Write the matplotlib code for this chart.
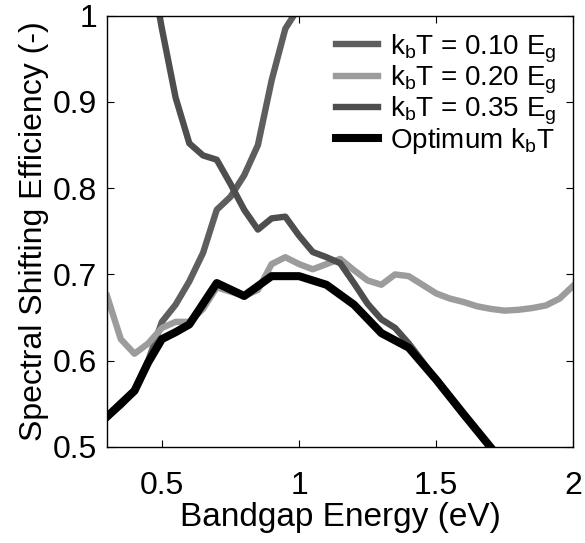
import matplotlib
matplotlib.use('Agg')
import matplotlib.pyplot as plt

plt.rcParams['font.family'] = ['Liberation Sans', 'DejaVu Sans']
plt.rcParams['mathtext.fontset'] = 'custom'
plt.rcParams['mathtext.rm'] = 'Liberation Sans'

# kbT = 0.10 Eg (rising curve)
x_010 = [0.30, 0.35, 0.40, 0.45, 0.50, 0.55, 0.60, 0.65, 0.70, 0.75, 0.80, 0.85, 0.90, 0.95, 0.98, 1.00]
y_010 = [0.535, 0.548, 0.565, 0.600, 0.645, 0.665, 0.692, 0.725, 0.775, 0.790, 0.815, 0.850, 0.925, 0.985, 1.000, 1.020]

# kbT = 0.20 Eg (light grey)
x_020 = [0.30, 0.35, 0.40, 0.45, 0.50, 0.55, 0.60, 0.65, 0.70, 0.75, 0.80, 0.85, 0.90, 0.95,
         1.00, 1.05, 1.10, 1.15, 1.20, 1.25, 1.30, 1.35, 1.40, 1.45, 1.50, 1.55, 1.60, 1.65,
         1.70, 1.75, 1.80, 1.85, 1.90, 1.95, 2.00]
y_020 = [0.675, 0.625, 0.608, 0.620, 0.638, 0.645, 0.645, 0.660, 0.685, 0.680, 0.675, 0.682, 0.712, 0.720,
         0.712, 0.706, 0.712, 0.718, 0.705, 0.693, 0.688, 0.700, 0.698, 0.688, 0.678, 0.672, 0.668, 0.663,
         0.660, 0.658, 0.659, 0.661, 0.664, 0.672, 0.687]

# kbT = 0.35 Eg (falling curve)
x_035 = [0.48, 0.50, 0.55, 0.60, 0.65, 0.70, 0.75, 0.80, 0.85, 0.90, 0.95, 1.00, 1.05, 1.10, 1.15,
         1.20, 1.25, 1.30, 1.35, 1.40, 1.50, 1.60, 1.70]
y_035 = [1.020, 0.985, 0.905, 0.852, 0.838, 0.833, 0.805, 0.775, 0.752, 0.765, 0.767, 0.745, 0.726, 0.720, 0.713,
         0.690, 0.666, 0.648, 0.638, 0.620, 0.578, 0.538, 0.499]

# optimum kbT
x_opt = [0.30, 0.35, 0.40, 0.45, 0.50, 0.55, 0.60, 0.70, 0.80, 0.90, 1.00, 1.10, 1.20, 1.30, 1.40, 1.50, 1.60, 1.70]
y_opt = [0.535, 0.550, 0.565, 0.598, 0.625, 0.633, 0.642, 0.690, 0.675, 0.698, 0.698, 0.688, 0.665, 0.632, 0.615, 0.578, 0.538, 0.499]

fig = plt.figure(figsize=(5.85, 5.43), dpi=100)
ax = fig.add_axes([0.183, 0.177, 0.797, 0.794])

ax.plot(x_010, y_010, color='#5e5e5e', lw=4.6, label=r'k$_\mathregular{b}$T = 0.10 E$_\mathregular{g}$')
ax.plot(x_020, y_020, color='#9c9c9c', lw=4.6, label=r'k$_\mathregular{b}$T = 0.20 E$_\mathregular{g}$')
ax.plot(x_035, y_035, color='#4e4e4e', lw=4.6, label=r'k$_\mathregular{b}$T = 0.35 E$_\mathregular{g}$')
ax.plot(x_opt, y_opt, color='black', lw=5.8, label=r'Optimum k$_\mathregular{b}$T')

ax.set_xlim(0.3, 2.0)
ax.set_ylim(0.5, 1.0)
ax.set_xticks([0.5, 1.0, 1.5, 2.0])
ax.set_xticklabels(['0.5', '1', '1.5', '2'])
ax.set_yticks([0.5, 0.6, 0.7, 0.8, 0.9, 1.0])
ax.set_yticklabels(['0.5', '0.6', '0.7', '0.8', '0.9', '1'])
ax.tick_params(direction='in', top=True, right=True, length=5, labelsize=23)
ax.tick_params(axis='x', pad=17)
ax.tick_params(axis='y', pad=7)
for s in ax.spines.values():
    s.set_linewidth(1.0)

ax.set_xlabel('Bandgap Energy (eV)', fontsize=24, labelpad=1)
ax.set_ylabel('Spectral Shifting Efficiency (-)', fontsize=23, labelpad=3)

ax.legend(loc='upper right', frameon=False, fontsize=20, handlelength=1.5,
          handletextpad=0.45, labelspacing=-0.05, borderaxespad=0.2)

fig.savefig('out.png', dpi=100)
